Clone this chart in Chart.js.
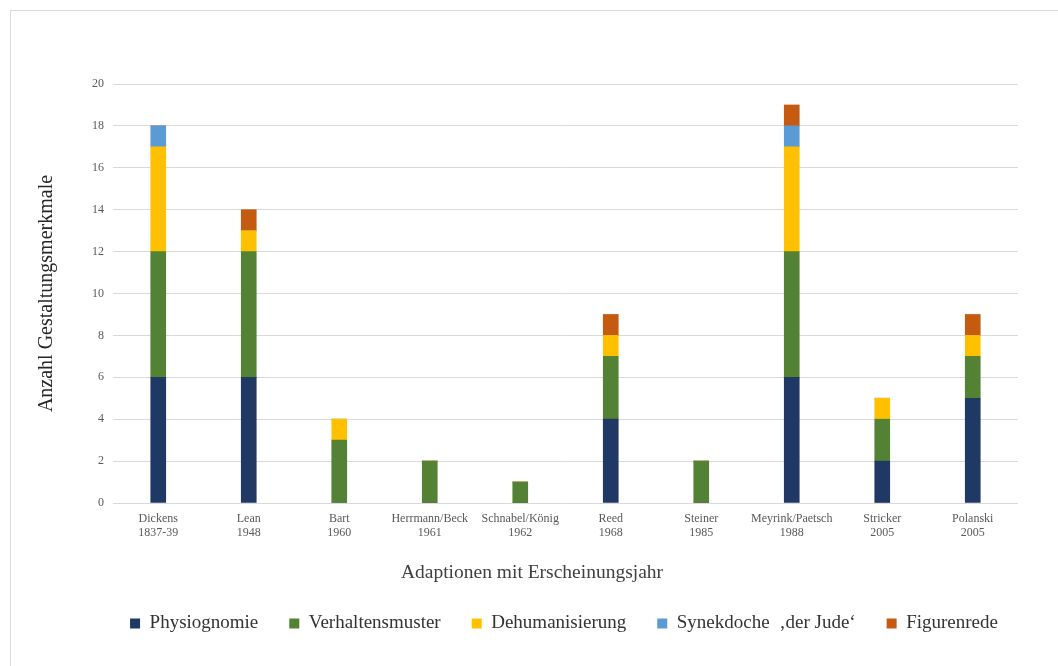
<!DOCTYPE html>
<html>
<head>
<meta charset="utf-8">
<script src="https://cdn.jsdelivr.net/npm/chart.js@4.4.0/dist/chart.umd.min.js"></script>
<style>
  html, body { margin: 0; padding: 0; background: #ffffff; }
  #frame { position: absolute; left: 10px; top: 10px; width: 1100px; height: 700px;
           border-top: 1px solid #d9d9d9; border-left: 1px solid #d9d9d9; }
  #wrap { position: absolute; left: 0; top: 0; width: 1058px; height: 666px; }
</style>
</head>
<body>
<div id="frame"></div>
<div id="wrap"><canvas id="c" width="1058" height="666"></canvas></div>
<script>
const adaptations = ['Dickens', 'Lean', 'Bart', 'Herrmann/Beck', 'Schnabel/König', 'Reed', 'Steiner', 'Meyrink/Paetsch', 'Stricker', 'Polanski'];
const years = ['1837-39', '1948', '1960', '1961', '1962', '1968', '1985', '1988', '2005', '2005'];

const physiognomie     = [6, 6, 0, 0, 0, 4, 0, 6, 2, 5];
const verhaltensmuster = [6, 6, 3, 2, 1, 3, 2, 6, 2, 2];
const dehumanisierung  = [5, 1, 1, 0, 0, 1, 0, 5, 1, 1];
const synekdoche       = [1, 0, 0, 0, 0, 0, 0, 1, 0, 0];
const figurenrede      = [0, 1, 0, 0, 0, 1, 0, 1, 0, 1];

const seriesNames = ['Physiognomie', 'Verhaltensmuster', 'Dehumanisierung', 'Synekdoche  \u201Ader Jude\u2018', 'Figurenrede'];
const yTicks = [0, 2, 4, 6, 8, 10, 12, 14, 16, 18, 20];

const colors = ['#203864', '#548235', '#FFC000', '#5B9BD5', '#C55A11'];
const serif = '"Liberation Serif", "Times New Roman", serif';

const labels = adaptations.map((a, i) => [a, years[i]]);
const seriesData = [physiognomie, verhaltensmuster, dehumanisierung, synekdoche, figurenrede];

const datasets = seriesData.map((d, i) => ({
  label: seriesNames[i],
  data: d,
  backgroundColor: colors[i],
  borderWidth: 0,
  barThickness: 15
}));

const shiftPlugin = {
  id: 'shiftBlocks',
  afterLayout(chart) {
    const t = chart.titleBlock;
    if (t) { t.left += 18; t.right += 18; }
    const l = chart.legend;
    if (l) { l.left += 50; l.right += 50; }
  }
};

new Chart(document.getElementById('c'), {
  type: 'bar',
  data: { labels, datasets },
  plugins: [shiftPlugin],
  options: {
    responsive: false,
    animation: false,
    layout: { padding: { left: 10, right: 40, top: 84, bottom: 23 } },
    plugins: {
      tooltip: { enabled: false },
      title: {
        display: true,
        position: 'bottom',
        weight: 500,
        text: 'Adaptionen mit Erscheinungsjahr',
        color: '#404040',
        font: { family: serif, size: 19.5, weight: 'normal', lineHeight: 1.0 },
        padding: { top: 15.5, bottom: 0 }
      },
      legend: {
        display: true,
        position: 'bottom',
        labels: {
          color: '#333333',
          font: { family: serif, size: 19 },
          boxWidth: 10,
          boxHeight: 10,
          padding: 31
        }
      }
    },
    scales: {
      x: {
        stacked: true,
        grid: { display: false, drawTicks: false },
        border: { display: false },
        ticks: {
          color: '#595959',
          font: { family: serif, size: 12 },
          padding: 8.5,
          maxRotation: 0,
          autoSkip: false
        },
        afterFit(scale) { scale.height = 45; }
      },
      y: {
        stacked: true,
        min: 0,
        max: 20,
        afterBuildTicks(scale) { scale.ticks = yTicks.map(v => ({ value: v })); },
        grid: { color: '#d9d9d9', lineWidth: 1, drawTicks: false },
        border: { display: false },
        ticks: {
          color: '#595959',
          font: { family: serif, size: 12 },
          padding: 9
        },
        title: {
          display: true,
          text: 'Anzahl Gestaltungsmerkmale',
          color: '#262626',
          font: { family: serif, size: 20 },
          padding: { top: 25, bottom: 0 }
        },
        afterFit(scale) { scale.width = 103; }
      }
    }
  }
});
</script>
</body>
</html>
